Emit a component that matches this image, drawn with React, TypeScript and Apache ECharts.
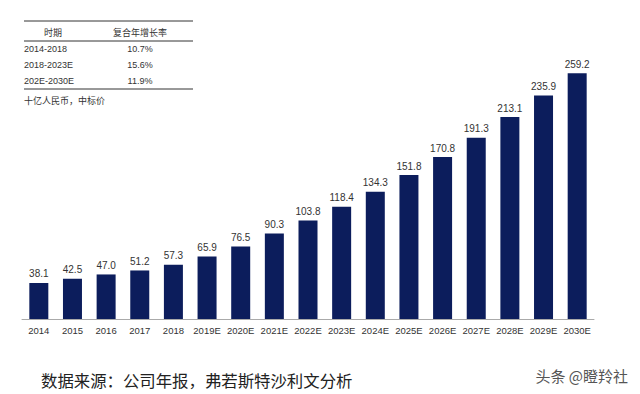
import React, { useEffect, useRef } from "react";
import * as echarts from "echarts";

const categories = ["2014", "2015", "2016", "2017", "2018", "2019E", "2020E", "2021E", "2022E", "2023E", "2024E", "2025E", "2026E", "2027E", "2028E", "2029E", "2030E"];
const values = [38.1, 42.5, 47.0, 51.2, 57.3, 65.9, 76.5, 90.3, 103.8, 118.4, 134.3, 151.8, 170.8, 191.3, 213.1, 235.9, 259.2];

const tableHeader = ["时期", "复合年增长率"];
const tablePeriods = ["2014-2018", "2018-2023E", "202E-2030E"];
const tableRates = ["10.7%", "15.6%", "11.9%"];
const unitNote = "十亿人民币，中标价";
const sourceNote = "数据来源：公司年报，弗若斯特沙利文分析";
const watermark = "头条 @瞪羚社";

const FONT = "Liberation Sans, Arial, Noto Sans CJK SC, sans-serif";
const CJK = "Noto Sans CJK SC, sans-serif";

export default function App() {
  const ref = useRef<HTMLDivElement>(null);
  useEffect(() => {
    document.body.style.margin = "0";
    const chart = echarts.init(ref.current!, null, { renderer: "svg" });
    const rowYs = [49, 65, 81];
    const graphic: any[] = [
      { type: "line", shape: { x1: 24, y1: 21, x2: 193, y2: 21 }, style: { stroke: "#333", lineWidth: 1 } },
      { type: "line", shape: { x1: 24, y1: 41, x2: 193, y2: 41 }, style: { stroke: "#333", lineWidth: 1 } },
      { type: "line", shape: { x1: 24, y1: 89, x2: 193, y2: 89 }, style: { stroke: "#333", lineWidth: 1 } },
      { type: "text", x: 53, y: 32, style: { text: tableHeader[0], font: `9px ${CJK}`, fill: "#333", align: "center", verticalAlign: "middle" } },
      { type: "text", x: 140, y: 32, style: { text: tableHeader[1], font: `9px ${CJK}`, fill: "#333", align: "center", verticalAlign: "middle" } },
      { type: "text", x: 24, y: 100, style: { text: unitNote, font: `9px ${CJK}`, fill: "#333", align: "left", verticalAlign: "middle" } },
      { type: "text", x: 41, y: 380, style: { text: sourceNote, font: `16.4px ${CJK}`, fill: "#222", align: "left", verticalAlign: "middle" } },
      { type: "text", x: 628, y: 375, style: { text: watermark, font: `15px ${CJK}`, fill: "#555", align: "right", verticalAlign: "middle" } },
    ];
    tablePeriods.forEach((p, i) => {
      graphic.push({ type: "text", x: 24, y: rowYs[i], style: { text: p, font: `9px ${FONT}`, fill: "#333", align: "left", verticalAlign: "middle" } });
      graphic.push({ type: "text", x: 140, y: rowYs[i], style: { text: tableRates[i], font: `9px ${FONT}`, fill: "#333", align: "center", verticalAlign: "middle" } });
    });
    chart.setOption({
      animation: false,
      grid: { left: 22, right: 46, top: 53.6, bottom: 75 },
      xAxis: {
        type: "category",
        data: categories,
        axisLine: { lineStyle: { color: "#aaa", width: 1 } },
        axisTick: { show: false },
        axisLabel: { color: "#333", fontSize: 9.5, fontFamily: FONT, margin: 7, interval: 0 },
      },
      yAxis: { type: "value", min: 0, max: 280, show: false, splitLine: { show: false } },
      series: [
        {
          type: "bar",
          data: values,
          barWidth: 19,
          itemStyle: { color: "#0c1d5c" },
          label: {
            show: true,
            position: "top",
            distance: 4,
            color: "#333",
            fontSize: 10,
            fontFamily: FONT,
            formatter: (p: any) => Number(p.value).toFixed(1),
          },
        },
      ],
      graphic,
    });
    return () => chart.dispose();
  }, []);
  return <div ref={ref} style={{ width: 640, height: 394, background: "#fff" }} />;
}
